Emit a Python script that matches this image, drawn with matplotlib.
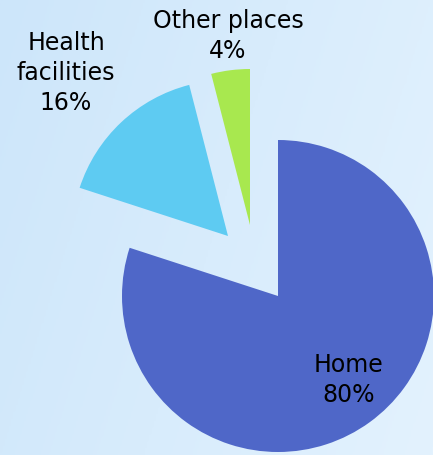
import numpy as np
import matplotlib
matplotlib.use("Agg")
import matplotlib.pyplot as plt
from matplotlib.colors import LinearSegmentedColormap

# data
places = ["Home", "Health facilities", "Other places"]
shares = [80, 16, 4]
label_text = ["Home\n80%", "Health\nfacilities\n16%", "Other places\n4%"]
colors = ["#4f67c8", "#5ecbf2", "#a8e84f"]

plt.rcParams['font.family'] = ['DejaVu Sans']

W, H = 433, 455
fig = plt.figure(figsize=(W / 100, H / 100), dpi=100)
ax = fig.add_axes([0, 0, 1, 1])

# light blue background gradient (darker on the left)
bg = LinearSegmentedColormap.from_list('bg', ["#cde6fa", "#d8ecfc", "#e3f2fe"])
xx, yy = np.meshgrid(np.linspace(0, 1, 200), np.linspace(0, 1, 200))
grad = 0.75 * xx + 0.25 * (1 - yy)
ax.imshow(grad, extent=[0, W, 0, H], cmap=bg, aspect='auto', zorder=0, origin='lower')

# pie, clockwise from 12 o'clock
cx, cy, r = 278, 159, 156
wedges, _ = ax.pie(shares, colors=colors, startangle=90, counterclock=False,
                   radius=r, center=(cx, cy), frame=True,
                   wedgeprops=dict(linewidth=0, zorder=2))
# the two small slices are pulled out up-left
offsets = [(0, 0), (-50, 60), (-28, 71)]
for w, (dx, dy) in zip(wedges, offsets):
    w.set_center((cx + dx, cy + dy))
ax.set_xlim(0, W)
ax.set_ylim(0, H)
ax.set_aspect('equal')
ax.axis('off')

# labels
label_pos = [(349, 75), (66, 382), (228, 419)]
for txt, (x, y) in zip(label_text, label_pos):
    ax.text(x, y, txt, ha='center', va='center', fontsize=17,
            linespacing=1.32, color='black', zorder=3)

fig.savefig("out.png", dpi=100)
